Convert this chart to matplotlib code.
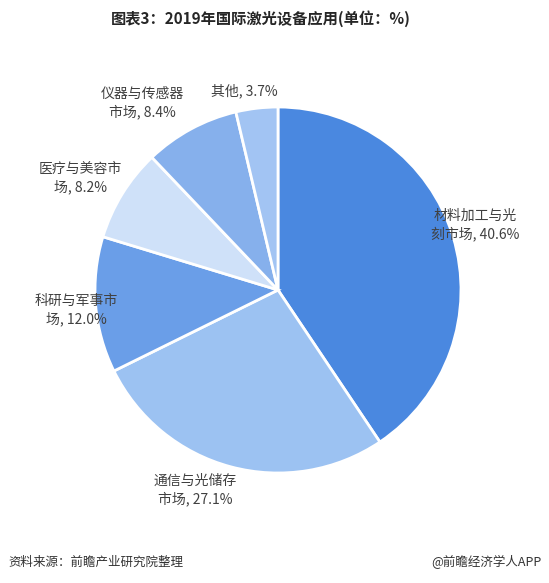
import matplotlib
matplotlib.use("Agg")
import matplotlib.pyplot as plt

plt.rcParams['font.family'] = ['Noto Sans CJK SC', 'DejaVu Sans']

categories = ["材料加工与光\n刻市场", "通信与光储存\n市场", "科研与军事市\n场", "医疗与美容市\n场", "仪器与传感器\n市场", "其他"]
values = [40.6, 27.1, 12.0, 8.2, 8.4, 3.7]
colors = ["#4a88e0", "#9cc2f2", "#6a9ee8", "#cfe1f9", "#86b0ec", "#a2c4f3"]
title = "图表3：2019年国际激光设备应用(单位：%)"
source = "资料来源：前瞻产业研究院整理"
credit = "@前瞻经济学人APP"

W, H = 549, 583
fig = plt.figure(figsize=(W / 100, H / 100), dpi=100)
ax = fig.add_axes([0, 0, 1, 1])

cx, cy, r = 278, H - 290, 183
ax.pie(values, colors=colors, startangle=90, counterclock=False,
       center=(cx, cy), radius=r,
       wedgeprops=dict(edgecolor="white", linewidth=2))
ax.set_xlim(0, W)
ax.set_ylim(0, H)
ax.set_aspect('equal')
ax.axis('off')

# label positions (pixel coords from top-left)
label_pos = [(475, 225), (195, 490), (76, 310), (80, 178), (142, 103), (244, 91)]
for cat, v, (px, py) in zip(categories, values, label_pos):
    ax.text(px, H - py, f"{cat}, {v:.1f}%", ha='center', va='center', fontsize=10,
            color="#404040", linespacing=1.3)

fig.text(261 / W, 1 - 19 / H, title, ha='center', va='center', fontsize=11,
         fontweight='bold', color="#262626")
fig.text(8 / W, 1 - 562 / H, source, ha='left', va='center', fontsize=9, color="#333333")
fig.text(541 / W, 1 - 562 / H, credit, ha='right', va='center', fontsize=9, color="#333333")

fig.savefig("out.png", dpi=100)
